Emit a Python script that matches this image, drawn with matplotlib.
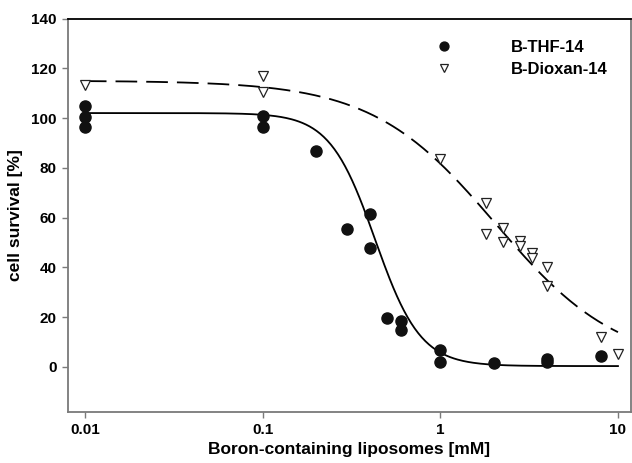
import numpy as np
import matplotlib
matplotlib.use("Agg")
import matplotlib.pyplot as plt

plt.rcParams["font.family"] = ["Liberation Sans", "DejaVu Sans"]
plt.rcParams["font.weight"] = "bold"
plt.rcParams["axes.labelweight"] = "bold"

# B-THF-14 measurements
thf_conc = [0.01, 0.01, 0.01, 0.1, 0.1, 0.2, 0.3, 0.4, 0.4, 0.5, 0.6, 0.6,
            1, 1, 2, 4, 4, 8]
thf_surv = [105, 100.5, 96.3, 101, 96.2, 86.9, 55.3, 61.4, 47.9, 19.7, 18.6, 14.8,
            6.7, 1.9, 1.6, 3.0, 2.0, 4.5]

# B-Dioxan-14 measurements
diox_conc = [0.01, 0.1, 0.1, 1, 1.8, 1.8, 2.25, 2.25, 2.8, 2.8, 3.3, 3.3,
             4, 4, 8, 10]
diox_surv = [113.4, 116.7, 110.5, 83.5, 66, 53.2, 56, 50.0, 50.4, 48.6, 45.9, 43.7,
             40.0, 32.5, 11.8, 5.0]

# fitted dose-response parameters (top, bottom, EC50, hill)
thf_fit = (102, 0.3, 0.43, 3.4)
diox_fit = (115, 0.0, 2.05, 1.25)


def logistic(x, top, bottom, ec50, hill):
    return bottom + (top - bottom) / (1 + (x / ec50) ** hill)


fig = plt.figure(figsize=(6.32, 4.63), dpi=100)
ax = fig.add_axes([0.107, 0.111, 0.891, 0.849])

xs = np.logspace(-2, 1, 300)
ax.plot(xs, logistic(xs, *thf_fit), color="black", lw=1.3, zorder=2)
ax.plot(xs, logistic(xs, *diox_fit), color="black", lw=1.3,
        dashes=(12, 5), zorder=2)

ax.plot(thf_conc, thf_surv, "o", color="#111111", ms=8, mec="#111111",
        label="B-THF-14", zorder=3)
ax.plot(diox_conc, diox_surv, "v", mfc="white", mec="#222222", mew=0.9, ms=7,
        label="B-Dioxan-14", zorder=3)

ax.set_xscale("log")
ax.set_xlim(0.008, 11.8)
ax.set_ylim(-18, 140)
ax.set_xticks([0.01, 0.1, 1, 10])
ax.set_xticklabels(["0.01", "0.1", "1", "10"])
ax.minorticks_off()
ax.set_yticks(range(0, 141, 20))

grey = "#7a7a7a"
for s in ["left", "bottom", "right"]:
    ax.spines[s].set_color(grey)
    ax.spines[s].set_linewidth(1.3)
ax.spines["top"].set_color("black")
ax.spines["top"].set_linewidth(1.3)
ax.tick_params(direction="out", length=4, width=1, color=grey,
               labelsize=11, pad=4)

ax.set_xlabel("Boron-containing liposomes [mM]", fontsize=12.5, labelpad=4)
ax.set_ylabel("cell survival [%]", fontsize=12.5, labelpad=6)

leg = ax.legend(loc="upper left", bbox_to_anchor=(0.639, 0.945), frameon=False,
                borderpad=0, borderaxespad=0, fontsize=12, handletextpad=3.0,
                labelspacing=0.4, markerscale=0.8)

fig.savefig("out.png", dpi=100)
